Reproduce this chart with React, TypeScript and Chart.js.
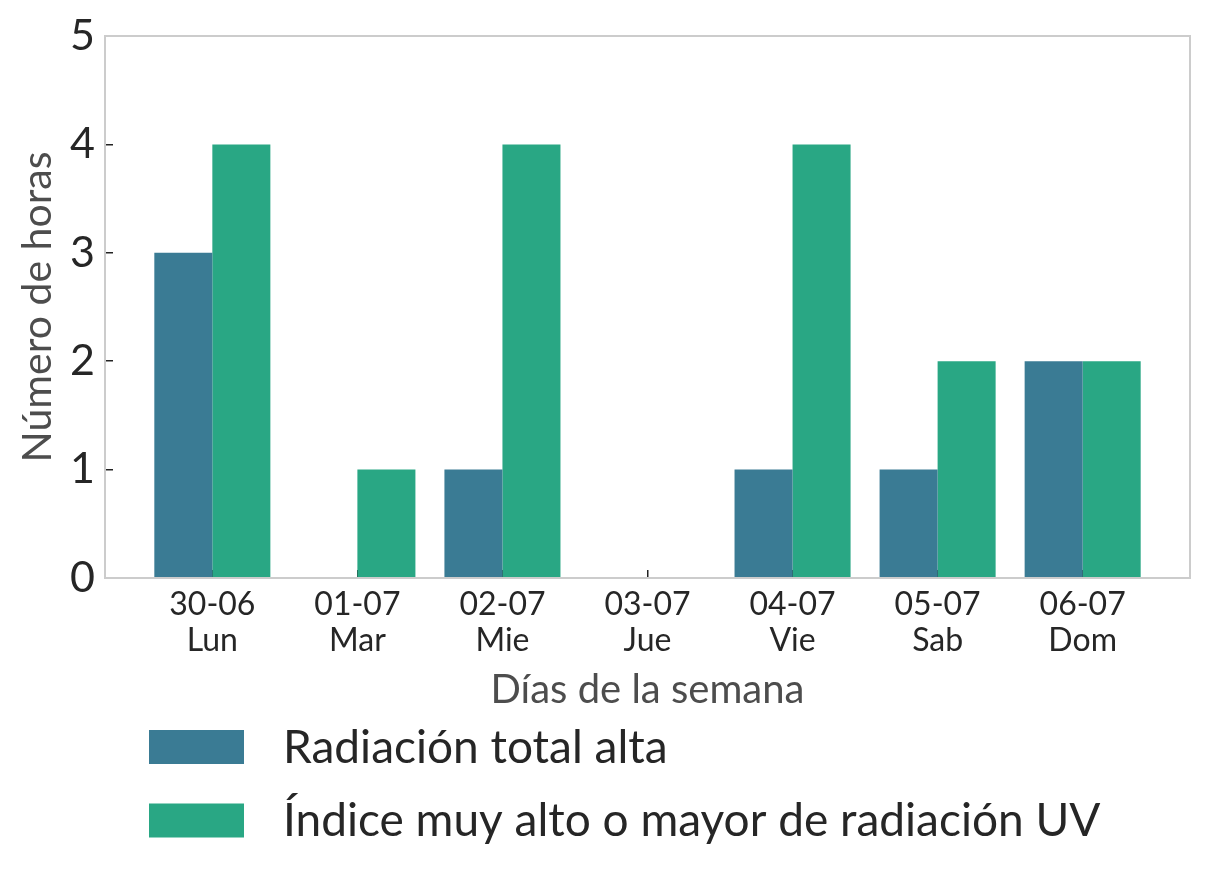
import React, { useEffect, useRef } from "react";
import { Chart, registerables } from "chart.js";

Chart.register(...registerables);

const dates = ["30-06", "01-07", "02-07", "03-07", "04-07", "05-07", "06-07"];
const days = ["Lun", "Mar", "Mie", "Jue", "Vie", "Sab", "Dom"];
const radiacionTotal = [3, 0, 1, 0, 1, 1, 2];
const indiceUV = [4, 1, 4, 0, 4, 2, 2];
const seriesLabels = ["Radiación total alta", "Índice muy alto o mayor de radiación UV"];
const seriesColors = ["#3a7b94", "#29a784"];
const yTicks = [0, 1, 2, 3, 4, 5];

const FONT = "Lato";

const framePlugin = {
  id: "frame",
  afterDraw(chart: any) {
    const { ctx, chartArea } = chart;
    ctx.save();
    ctx.strokeStyle = "#cccccc";
    ctx.lineWidth = 2;
    ctx.strokeRect(chartArea.left, chartArea.top, chartArea.right - chartArea.left, chartArea.bottom - chartArea.top);
    ctx.restore();
  },
};

const legendPlugin = {
  id: "customLegend",
  afterDraw(chart: any) {
    const { ctx } = chart;
    const ds = chart.data.datasets;
    ctx.save();
    ctx.font = `46px ${FONT}`;
    ctx.textBaseline = "middle";
    ctx.textAlign = "left";
    const boxX = 141;
    const boxW = 95;
    const boxH = 34;
    const rows = [739, 812.5];
    ds.forEach((d: any, i: number) => {
      const cy = rows[i];
      ctx.fillStyle = d.backgroundColor;
      ctx.fillRect(boxX, cy - boxH / 2, boxW, boxH);
      ctx.fillStyle = "#262626";
      ctx.fillText(d.label, 275, cy + 1);
    });
    ctx.restore();
  },
};

export default function App() {
  const ref = useRef<HTMLCanvasElement | null>(null);
  useEffect(() => {
    if (!ref.current) return;
    const chart = new Chart(ref.current, {
      type: "bar",
      data: {
        datasets: [
          {
            label: seriesLabels[0],
            data: radiacionTotal.map((v, i) => ({ x: i, y: v })),
            backgroundColor: seriesColors[0],
            categoryPercentage: 0.8,
            barPercentage: 1.0,
          },
          {
            label: seriesLabels[1],
            data: indiceUV.map((v, i) => ({ x: i, y: v })),
            backgroundColor: seriesColors[1],
            categoryPercentage: 0.8,
            barPercentage: 1.0,
          },
        ],
      },
      options: {
        animation: false,
        responsive: true,
        maintainAspectRatio: false,
        devicePixelRatio: 1,
        layout: { padding: { left: 0, top: 28, right: 11, bottom: 160 } },
        plugins: {
          legend: { display: false },
          tooltip: { enabled: false },
        },
        scales: {
          x: {
            type: "linear",
            min: -0.74,
            max: 6.74,
            offset: false,
            z: 1,
            afterBuildTicks: (scale: any) => {
              scale.ticks = dates.map((_, i) => ({ value: i }));
            },
            afterFit: (scale: any) => {
              scale.height = 140;
              scale.paddingLeft = 0;
              scale.paddingRight = 0;
            },
            border: { display: false },
            grid: {
              offset: false,
              drawOnChartArea: false,
              drawTicks: true,
              tickLength: -8,
              color: "#222222",
              lineWidth: 1.5,
            },
            ticks: {
              autoSkip: false,
              maxRotation: 0,
              padding: 17,
              color: "#262626",
              font: { family: FONT, size: 32, lineHeight: 1.125 },
              callback: (value: any) => [dates[value], days[value]],
            },
            title: {
              display: true,
              text: "Días de la semana",
              color: "#4d4d4d",
              font: { family: FONT, size: 40, lineHeight: 1.2 },
              padding: { top: 0, bottom: 4 },
            },
          },
          y: {
            min: 0,
            max: 5,
            z: 1,
            afterBuildTicks: (scale: any) => {
              scale.ticks = yTicks.map((v) => ({ value: v }));
            },
            afterFit: (scale: any) => {
              scale.width = 97;
              scale.paddingTop = 0;
              scale.paddingBottom = 0;
            },
            border: { display: false },
            grid: {
              drawOnChartArea: false,
              drawTicks: true,
              tickLength: -8,
              color: "#222222",
              lineWidth: 1.5,
            },
            ticks: {
              padding: 18,
              color: "#262626",
              font: { family: FONT, size: 43 },
            },
            title: {
              display: true,
              text: "Número de horas",
              color: "#4d4d4d",
              font: { family: FONT, size: 41, lineHeight: 1.2 },
              padding: { top: 5, bottom: 0 },
            },
          },
        },
      },
      plugins: [framePlugin, legendPlugin],
    } as any);
    return () => chart.destroy();
  }, []);
  return (
    <div style={{ width: 1193, height: 870, position: "relative" }}>
      <canvas ref={ref} />
    </div>
  );
}
